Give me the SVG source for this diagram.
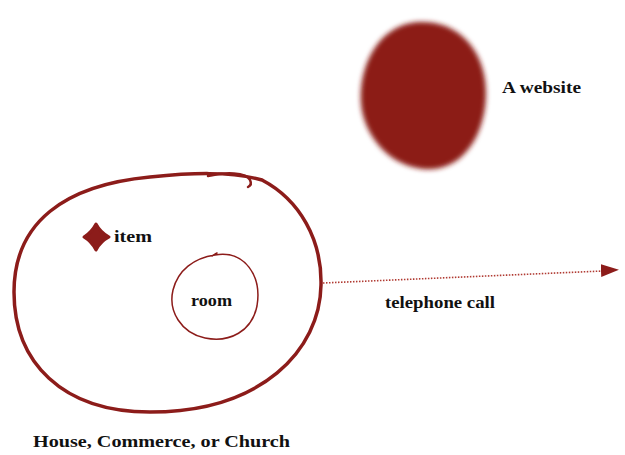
<svg xmlns="http://www.w3.org/2000/svg" width="625" height="455" viewBox="0 0 625 455">
<style>
.lbl{font-family:"Liberation Serif","DejaVu Serif",serif;font-weight:bold;font-size:17px;fill:#111}
.ink{fill:none;stroke:#8c1c1a;stroke-linecap:round;stroke-linejoin:round}
</style>
<defs>
<filter id="soft" x="-20%" y="-20%" width="140%" height="140%"><feGaussianBlur stdDeviation="2.5"/></filter>
<marker id="ah" viewBox="0 0 18 14" refX="2" refY="7" markerWidth="18" markerHeight="14" markerUnits="userSpaceOnUse" orient="auto"><path d="M0,0 L18,6.5 L0,13 Z" fill="#8c1c1a"/></marker>
</defs>
<rect width="625" height="455" fill="#fff"/>
<g id="website">
<path d="M418,22 C455,20 480,45 485,80 C490,115 475,160 440,168 C405,175 372,150 363,115 C354,80 372,25 418,22 Z" fill="#8c1d18" filter="url(#soft)"/>
<text class="lbl" x="502" y="93" textLength="79" lengthAdjust="spacingAndGlyphs">A website</text>
</g>
<g id="house">
<path class="ink" stroke-width="3.5" d="M262,180 C300,200 322,240 321,285 C320,350 262,412 150,412 C62,412 14,362 14,292 C14,222 65,185 150,177 C190,173 230,171 262,180"/>
<path class="ink" stroke-width="2.5" d="M208,176 C225,172 246,172 250,180 C252,184 250,186 248,187"/>
<text class="lbl" x="33" y="447" textLength="257" lengthAdjust="spacingAndGlyphs">House, Commerce, or Church</text>
</g>
<g id="item">
<path d="M96,224 Q100.5,232.5 109,237 Q100.5,241.5 96,250 Q91.5,241.5 84,237 Q91.5,232.5 96,224 Z" fill="#8c1c1a" stroke="#8c1c1a" stroke-width="3" stroke-linejoin="round"/>
<text class="lbl" x="114" y="242" textLength="38" lengthAdjust="spacingAndGlyphs">item</text>
</g>
<g id="room">
<path class="ink" stroke-width="1.5" d="M215,255 C245,250 262,276 257,306 C252,331 230,343 205,338 C181,333 168,311 173,290 C178,270 194,258 215,255 M212,256 L217,253"/>
<text class="lbl" x="191" y="306" textLength="41" lengthAdjust="spacingAndGlyphs">room</text>
</g>
<g id="connectors">
<path d="M323,283 L603,271" fill="none" stroke="#b03a32" stroke-width="1.6" stroke-dasharray="1.5 1.5" marker-end="url(#ah)"/>
<text class="lbl" x="385" y="308" textLength="110" lengthAdjust="spacingAndGlyphs">telephone call</text>
</g>
</svg>
